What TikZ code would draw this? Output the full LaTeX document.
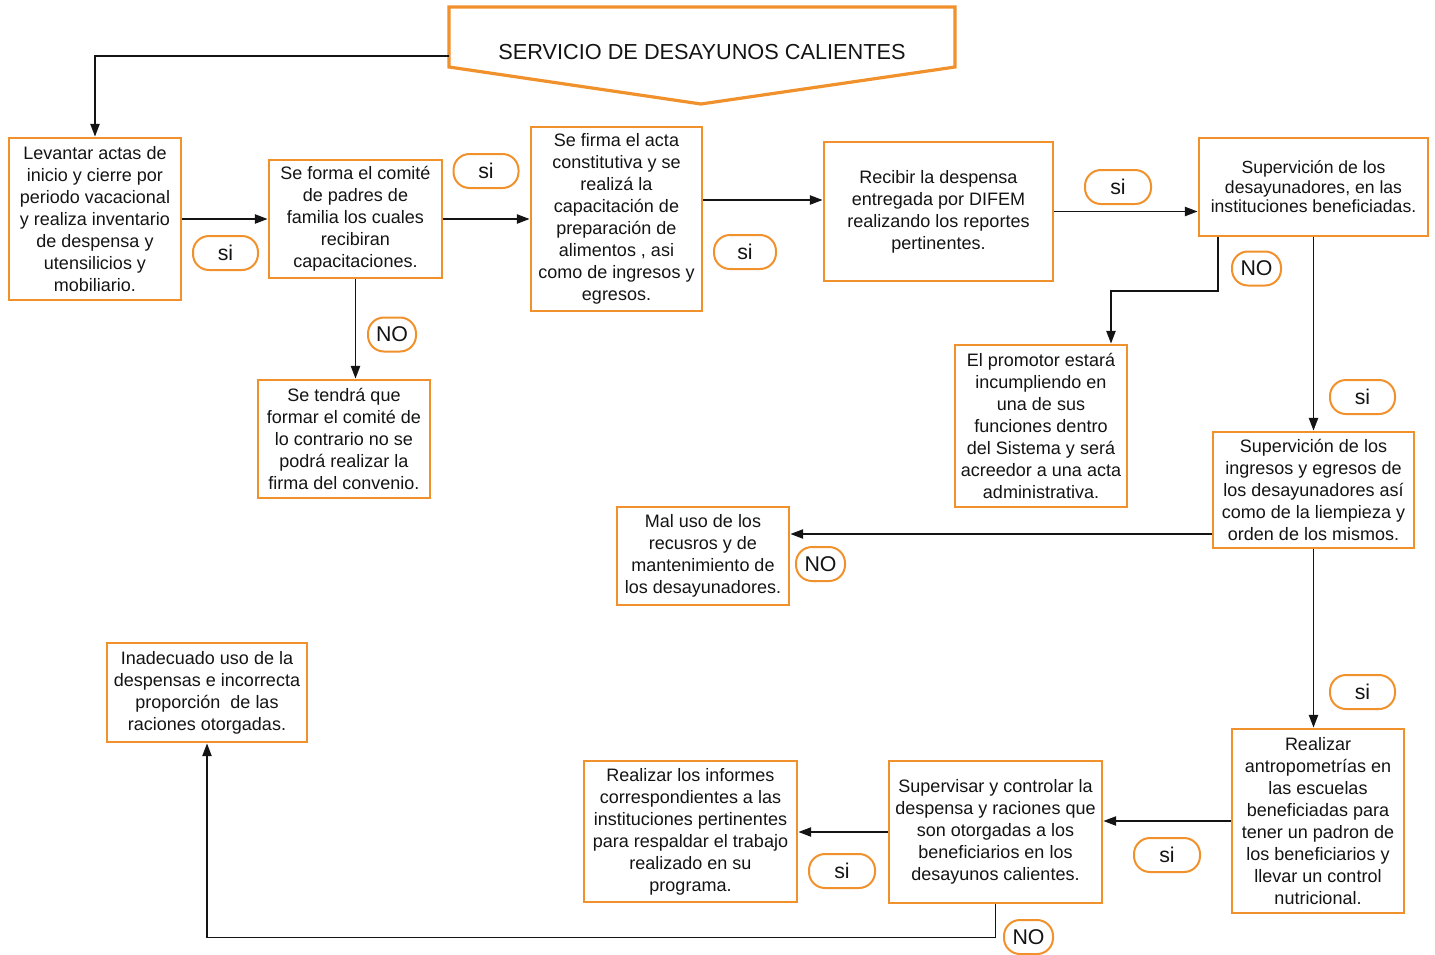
\documentclass[tikz,border=0pt]{standalone}
\usepackage{fontspec}
\setmainfont{Liberation Sans}
\usetikzlibrary{arrows.meta}
\definecolor{accent}{RGB}{241,145,44}
\definecolor{ink}{RGB}{20,20,20}
\begin{document}
\begin{tikzpicture}[x=0.75pt,y=-0.75pt,
  box/.style={draw=accent, line width=2.2pt, fill=white, inner sep=0pt, align=center,
    text=ink, font=\fontsize{13.5}{16.5}\selectfont},
  sz/.style 2 args={minimum width=#1*0.75pt, minimum height=#2*0.75pt},
  pill/.style={draw=accent, line width=1.5pt, fill=white, rounded corners=12pt, inner sep=0pt,
    minimum height=34*0.75pt, text=ink, font=\fontsize{16}{18}\selectfont},
  arr/.style={draw=ink, line width=1pt, -{Triangle[length=9.5pt,width=7pt]}}]
\useasboundingbox (0,0) rectangle (1435,954);

% heading banner
\draw[accent, line width=2.4pt, line join=miter] (449,7) -- (955,7) -- (955,67) -- (701,104) -- (449,67) -- cycle;
\node[text=ink, font=\fontsize{16.3}{19}\selectfont] (title) at (702,52) {SERVICIO DE DESAYUNOS CALIENTES};
\coordinate (titleW) at (449,56);

% process boxes
\node[box, sz={172}{162}] (b1) at (95,219) {Levantar actas de\\inicio y cierre por\\periodo vacacional\\y realiza inventario\\de despensa y\\utensilicios y\\mobiliario.};
\node[box, sz={173}{118}] (b2) at (355.5,219) {Se forma el comité\\de padres de\\familia los cuales\\recibiran\\capacitaciones.};
\node[box, sz={171}{184}] (b3) at (616.5,219) {Se firma el acta\\constitutiva y se\\realizá la\\capacitación de\\preparación de\\alimentos , asi\\como de ingresos y\\egresos.};
\node[box, sz={229}{139}] (b4) at (938.5,211.5) {Recibir la despensa\\entregada por DIFEM\\realizando los reportes\\pertinentes.};
\node[box, sz={229}{98}, font=\fontsize{13.2}{14.6}\selectfont] (b5) at (1313.5,187) {Supervición de los\\desayunadores, en las\\instituciones beneficiadas.};
\node[box, sz={172}{118}] (b6) at (344,439) {Se tendrá que\\formar el comité de\\lo contrario no se\\podrá realizar la\\firma del convenio.};
\node[box, sz={172}{162}] (b7) at (1041,426) {El promotor estará\\incumpliendo en\\una de sus\\funciones dentro\\del Sistema y será\\acreedor a una acta\\administrativa.};
\node[box, sz={201}{116}] (b8) at (1313.5,490) {Supervición de los\\ingresos y egresos de\\los desayunadores así\\como de la liempieza y\\orden de los mismos.};
\node[box, sz={172}{98}] (b9) at (703,556) {Mal uso de los\\recusros y de\\mantenimiento de\\los desayunadores.};
\node[box, sz={172}{184}] (b10) at (1318,821) {Realizar\\antropometrías en\\las escuelas\\beneficiadas para\\tener un padron de\\los beneficiarios y\\llevar un control\\nutricional.};
\node[box, sz={213}{142}] (b11) at (995.5,832) {Supervisar y controlar la\\despensa y raciones que\\son otorgadas a los\\beneficiarios en los\\desayunos calientes.};
\node[box, sz={213}{141}] (b12) at (690.5,831.5) {Realizar los informes\\correspondientes a las\\instituciones pertinentes\\para respaldar el trabajo\\realizado en su\\programa.};
\node[box, sz={200}{99}] (b13) at (207,692.5) {Inadecuado uso de la\\despensas e incorrecta\\proporción\ \ de las\\raciones otorgadas.};

% connectors
\draw[arr] (titleW) -| (b1.north);
\draw[arr] (b1.east) -- (b2.west);
\draw[arr] (b2.east) -- (b3.west);
\draw[arr] (b3.east |- 0,200) -- (b4.west |- 0,200);
\draw[arr] (b4.east) -- (b5.west |- b4.east);
\draw[arr] (b2.south) -- (b2.south |- b6.north);
\draw[arr] (b5.south -| 1218,0) -- (1218,291) -| (b7.north -| 1111,0);
\draw[arr] (b5.south) -- (b8.north);
\draw[arr] (b8.west |- 0,534) -- (b9.east |- 0,534);
\draw[arr] (b8.south) -- (b10.north -| b8.south);
\draw[arr] (b10.west) -- (b11.east |- b10.west);
\draw[arr] (b11.west) -- (b12.east |- b11.west);
\draw[arr] (b11.south) -- ++(0,33) -| (b13.south);

% branch labels
\node[pill, minimum width=65*0.75pt] (l1) at (486,171) {si};
\node[pill, minimum width=65*0.75pt] (l2) at (225.5,253) {si};
\node[pill, minimum width=48*0.75pt] (l3) at (392,334.5) {NO};
\node[pill, minimum width=62*0.75pt] (l4) at (745,252) {si};
\node[pill, minimum width=66*0.75pt] (l5) at (1118,187) {si};
\node[pill, minimum width=49*0.75pt] (l6) at (1256.5,268.5) {NO};
\node[pill, minimum width=65*0.75pt] (l7) at (1362.5,397) {si};
\node[pill, minimum width=49*0.75pt] (l8) at (820.5,564) {NO};
\node[pill, minimum width=65*0.75pt] (l9) at (1362.5,692) {si};
\node[pill, minimum width=66*0.75pt] (l10) at (1167,855) {si};
\node[pill, minimum width=66*0.75pt] (l11) at (842,871) {si};
\node[pill, minimum width=49*0.75pt] (l12) at (1028.5,937) {NO};
\end{tikzpicture}
\end{document}
